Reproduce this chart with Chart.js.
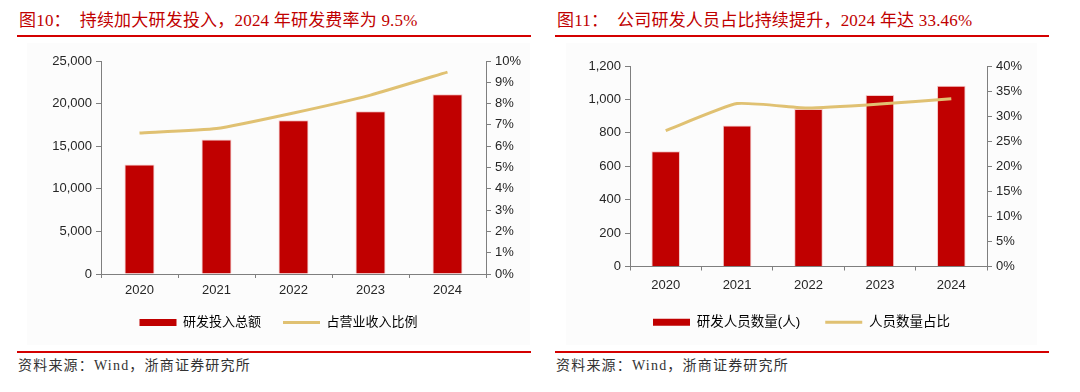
<!DOCTYPE html>
<html>
<head>
<meta charset="utf-8">
<script src="https://cdn.jsdelivr.net/npm/chart.js@4/dist/chart.umd.min.js"></script>
<style>
  html, body { margin: 0; padding: 0; background: #fff; }
  body { width: 1080px; height: 392px; position: relative; overflow: hidden; }
  .title {
    position: absolute; top: 9px; height: 24px; line-height: 24px;
    font-family: "Liberation Serif", "Noto Sans CJK SC", serif;
    font-size: 17px; color: #c00000; white-space: nowrap; letter-spacing: 0.2px;
  }
  .rule { position: absolute; height: 2px; background: #d40000; }
  .panel { position: absolute; top: 43px; height: 302px; background: #fcfcfc; }
  .source {
    position: absolute; top: 357px; line-height: 18px;
    font-family: "Liberation Serif", "Noto Sans CJK SC", serif;
    font-size: 14px; color: #333; letter-spacing: 1.2px; white-space: nowrap;
  }
</style>
</head>
<body>
  <div class="title" style="left:19px">图10：&nbsp; 持续加大研发投入，2024 年研发费率为 9.5%</div>
  <div class="rule" style="left:17px; width:514px; top:35px"></div>
  <div class="panel" style="left:27px; width:503px"><canvas id="leftChart"></canvas></div>
  <div class="rule" style="left:17px; width:514px; top:351px"></div>
  <div class="source" style="left:18px">资料来源：Wind，浙商证券研究所</div>

  <div class="title" style="left:557px">图11：&nbsp; 公司研发人员占比持续提升，2024 年达 33.46%</div>
  <div class="rule" style="left:555px; width:494px; top:35px"></div>
  <div class="panel" style="left:566px; width:471px"><canvas id="rightChart"></canvas></div>
  <div class="rule" style="left:555px; width:494px; top:351px"></div>
  <div class="source" style="left:556px">资料来源：Wind，浙商证券研究所</div>

<script>
const years = ['2020', '2021', '2022', '2023', '2024'];

// 图10
const rdSpend = [12850, 15800, 18050, 19100, 21100];
const rdRatio = [6.62, 6.83, 7.56, 8.40, 9.48];

// 图11
const rdStaff = [690, 844, 942, 1027, 1082];
const staffRatio = [27.1, 32.5, 31.6, 32.4, 33.46];

const colors = {
  RED: '#c00000',
  GOLD: '#e0c172',
  AXIS: '#7f7f7f',
  TEXT: '#262626'
};

Chart.defaults.font.family = '"Liberation Sans", Arial, "Noto Sans CJK SC", sans-serif';
Chart.defaults.font.size = 13;
Chart.defaults.color = colors.TEXT;
Chart.defaults.animation = false;

function makeChart(id, opts) {
  const ctx = document.getElementById(id);
  return new Chart(ctx, {
    type: 'bar',
    data: {
      labels: years,
      datasets: [
        {
          label: opts.barLabel,
          data: opts.barData,
          backgroundColor: colors.RED,
          borderColor: '#f3c9c9',
          borderWidth: { top: 1, left: 1, right: 1, bottom: 0 },
          barPercentage: opts.barPct,
          categoryPercentage: 1,
          yAxisID: 'y',
          order: 2
        },
        {
          type: 'line',
          label: opts.lineLabel,
          data: opts.lineData,
          borderColor: colors.GOLD,
          backgroundColor: colors.GOLD,
          borderWidth: 3,
          pointRadius: 0,
          tension: 0.15,
          yAxisID: 'y1',
          order: 1
        }
      ]
    },
    options: {
      responsive: true,
      maintainAspectRatio: false,
      layout: { padding: opts.padding },
      plugins: {
        tooltip: { enabled: false },
        legend: {
          position: 'bottom',
          labels: {
            usePointStyle: true,
            pointStyleWidth: 37,
            boxHeight: 7,
            padding: opts.legendGap,
            color: colors.TEXT,
            font: { size: opts.legendSize },
            generateLabels: chart => chart.data.datasets.map((ds, i) => ({
              text: ds.label,
              fillStyle: ds.backgroundColor,
              strokeStyle: ds.type === 'line' ? ds.borderColor : ds.backgroundColor,
              lineWidth: ds.type === 'line' ? 3 : 0,
              pointStyle: ds.type === 'line' ? 'line' : 'rect',
              hidden: false,
              datasetIndex: i
            }))
          }
        }
      },
      scales: {
        x: {
          grid: { display: true, drawOnChartArea: false, tickLength: 4, color: colors.AXIS, offset: true },
          border: { color: colors.AXIS },
          ticks: { padding: opts.xPad, color: colors.TEXT },
          afterFit: s => { s.height = opts.xHeight; }
        },
        y: {
          position: 'left',
          min: 0,
          max: opts.yMax,
          grid: { drawOnChartArea: false, tickLength: 5, color: colors.AXIS },
          border: { color: colors.AXIS },
          ticks: {
            stepSize: opts.yStep,
            padding: 4,
            color: colors.TEXT,
            callback: v => v.toLocaleString('en-US')
          },
          afterFit: s => { s.width = opts.yWidth; }
        },
        y1: {
          position: 'right',
          min: 0,
          max: opts.y1Max,
          grid: { drawOnChartArea: false, tickLength: 5, color: colors.AXIS },
          border: { color: colors.AXIS },
          ticks: {
            stepSize: opts.y1Step,
            padding: 4,
            color: colors.TEXT,
            callback: v => v + '%'
          },
          afterFit: s => { s.width = opts.y1Width; }
        }
      }
    }
  });
}

makeChart('leftChart', {
  barLabel: '研发投入总额',
  lineLabel: '占营业收入比例',
  barData: rdSpend,
  lineData: rdRatio,
  barPct: 0.39,
  yMax: 25000, yStep: 5000,
  y1Max: 10, y1Step: 1,
  yWidth: 74, y1Width: 44,
  xHeight: 20, xPad: 5,
  legendGap: 22, legendSize: 13,
  padding: { top: 18, bottom: 6, left: 0, right: 0 }
});

makeChart('rightChart', {
  barLabel: '研发人员数量(人)',
  lineLabel: '人员数量占比',
  barData: rdStaff,
  lineData: staffRatio,
  barPct: 0.4,
  yMax: 1200, yStep: 200,
  y1Max: 40, y1Step: 5,
  yWidth: 64, y1Width: 50,
  xHeight: 24, xPad: 7,
  legendGap: 25, legendSize: 13.5,
  padding: { top: 23, bottom: 6, left: 0, right: 0 }
});
</script>
</body>
</html>
